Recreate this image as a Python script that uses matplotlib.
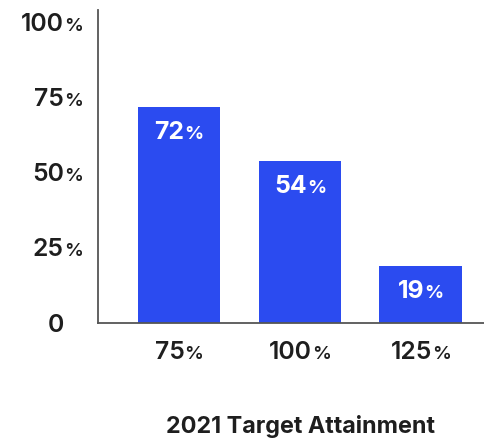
import matplotlib
matplotlib.use("Agg")
import matplotlib.pyplot as plt

# Share of plans reaching each attainment level
categories = ["75", "100", "125"]
shares = [72, 54, 19]
y_ticks = [0, 25, 50, 75, 100]
title = "2021 Target Attainment"

BAR_COLOR = "#2B4BF0"
TEXT_COLOR = "#1E1E1E"
FONT = ["Inter", "DejaVu Sans"]
BIG, SMALL = 17.8, 13.5

W, H = 485, 442
fig = plt.figure(figsize=(W / 100, H / 100), dpi=100)
ax = fig.add_axes([98 / W, 1 - 323 / H, 1 - 98 / W, (323 - 10) / H])

x = list(range(len(categories)))
ax.bar(x, shares, width=0.685, color=BAR_COLOR, zorder=2)
ax.set_xlim(-0.67, 2.53)
ax.set_ylim(0, 104.3)

for side in ("top", "right"):
    ax.spines[side].set_visible(False)
for side in ("left", "bottom"):
    ax.spines[side].set_color("#555555")
    ax.spines[side].set_linewidth(1.3)
ax.set_xticks(x)
ax.set_yticks(y_ticks)
ax.set_xticklabels([])
ax.set_yticklabels([])
ax.tick_params(length=0)

renderer = fig.canvas.get_renderer()
px2pt = 72 / fig.dpi


def split_label(xy, coords, number, suffix, dx, dy, align, color, weight):
    """Number in a large size followed by a smaller percent sign."""
    kw = dict(xycoords=coords, textcoords="offset points", va="baseline",
              ha="left", color=color, fontweight=weight, family=FONT)
    num = ax.annotate(number, xy, xytext=(dx, dy), fontsize=BIG, **kw)
    w1 = num.get_window_extent(renderer).width * px2pt
    pct = None
    w2 = 0
    if suffix:
        pct = ax.annotate(suffix, xy, xytext=(dx, dy), fontsize=SMALL, **kw)
        w2 = pct.get_window_extent(renderer).width * px2pt
    gap = 0.05 if suffix else 0
    if align == "center":
        start = dx - (w1 + gap + w2) / 2
    else:  # digits right-aligned at dx
        start = dx - w1
    num.xyann = (start, dy)
    if pct is not None:
        pct.xyann = (start + w1 + gap, dy)


ytrans = ax.get_yaxis_transform()
for t in y_ticks:
    split_label((0, t), ytrans, str(t), "%" if t else "", -34 * px2pt,
                -8.5 * px2pt, "right", TEXT_COLOR, "semibold")

xtrans = ax.get_xaxis_transform()
for xi, c in zip(x, categories):
    split_label((xi, 0), xtrans, c, "%", 0, -36 * px2pt, "center",
                TEXT_COLOR, "semibold")

for xi, v in zip(x, shares):
    split_label((xi, v), "data", str(v), "%", 0, -32 * px2pt, "center",
                "white", "bold")

fig.text(301 / W, 1 - 433 / H, title, ha="center", va="baseline",
         fontsize=16.8, fontweight="bold", color=TEXT_COLOR, family=FONT)

fig.savefig("out.png", dpi=100)
